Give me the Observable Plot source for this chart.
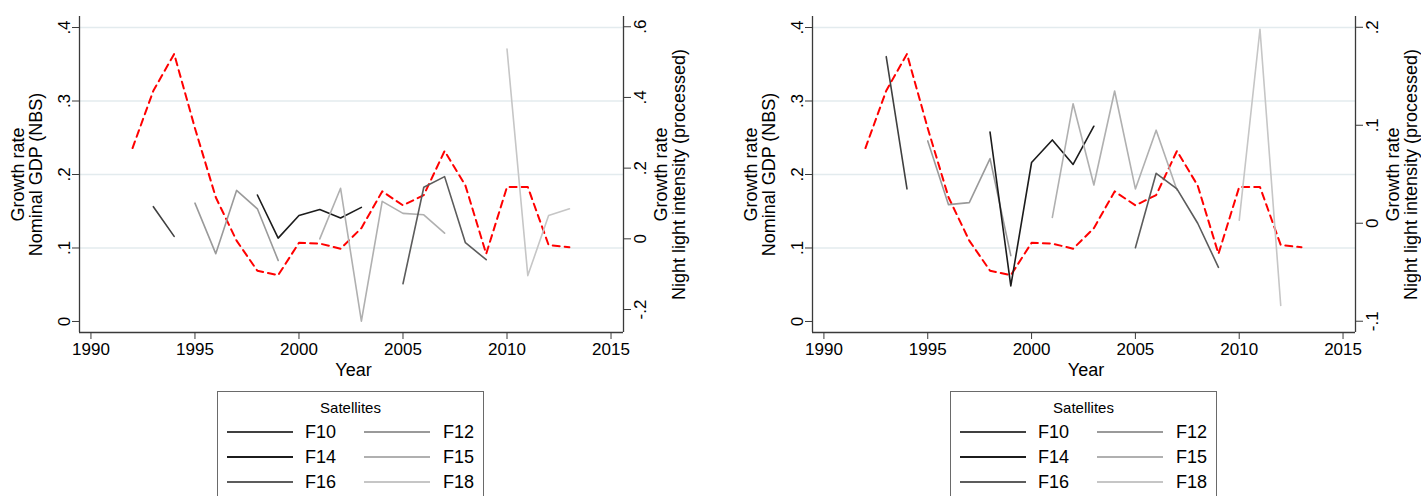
<!DOCTYPE html>
<html><head><meta charset="utf-8">
<script src="https://cdn.jsdelivr.net/npm/d3@7"></script>
<script src="https://cdn.jsdelivr.net/npm/@observablehq/plot@0.6"></script>
<style>
body{margin:0;background:#fff;font-family:"Liberation Sans",Arial,sans-serif;}
#wrap{position:relative;width:1421px;height:496px;overflow:hidden;background:#fff;}
.layer{position:absolute;top:0;}
.legend{position:absolute;border:1px solid #6a6a6a;background:#fff;box-sizing:border-box;width:267px;height:130px;top:391px;}
.legend .t{position:absolute;left:0;width:100%;text-align:center;font-size:15px;top:7px;}
.legend .sw{position:absolute;height:2px;}
.legend .lb{position:absolute;font-size:18px;line-height:18px;}
</style></head><body><div id="wrap"></div>
<script>
// ---------- data ----------
const satellites = ["F10", "F12", "F14", "F15", "F16", "F18"];
const satColors  = ["#404040", "#9a9a9a", "#1c1c1c", "#b0b0b0", "#5c5c5c", "#c6c6c6"];

const gdpYears  = [1992,1993,1994,1995,1996,1997,1998,1999,2000,2001,2002,2003,2004,2005,2006,2007,2008,2009,2010,2011,2012,2013];
const gdpGrowth = [0.236,0.314,0.364,0.263,0.169,0.110,0.069,0.063,0.107,0.106,0.099,0.127,0.177,0.158,0.172,0.232,0.185,0.092,0.183,0.183,0.104,0.101];

const f10Years = [1993,1994];
const f12Years = [1995,1996,1997,1998,1999];
const f14Years = [1998,1999,2000,2001,2002,2003];
const f15Years = [2001,2002,2003,2004,2005,2006,2007];
const f16Years = [2005,2006,2007,2008,2009];
const f18YearsLeft  = [2010,2011,2012,2013];
const f18YearsRight = [2010,2011,2012];

// left panel: night light growth (right axis)
const leftF10 = [0.091, 0.007];
const leftF12 = [0.101, -0.042, 0.137, 0.085, -0.061];
const leftF14 = [0.124, 0.002, 0.066, 0.083, 0.059, 0.089];
const leftF15 = [0.000, 0.143, -0.233, 0.106, 0.072, 0.068, 0.016];
const leftF16 = [-0.127, 0.146, 0.176, -0.011, -0.059];
const leftF18 = [0.537, -0.104, 0.066, 0.085];

// right panel: night light growth (right axis)
const rightF10 = [0.170, 0.035];
const rightF12 = [0.084, 0.019, 0.021, 0.066, -0.033];
const rightF14 = [0.093, -0.064, 0.062, 0.085, 0.060, 0.099];
const rightF15 = [0.006, 0.122, 0.039, 0.135, 0.035, 0.095, 0.034];
const rightF16 = [-0.025, 0.051, 0.035, 0.000, -0.045];
const rightF18 = [0.003, 0.198, -0.084];

const xTicks = [1990, 1995, 2000, 2005, 2010, 2015];
const gdpTicks = [0, 0.1, 0.2, 0.3, 0.4];
const leftNightTicks = [-0.2, 0, 0.2, 0.4, 0.6];
const rightNightTicks = [-0.1, 0, 0.1, 0.2];

// ---------- build ----------
const rows = (ys, vs, sat) => ys.map((y, i) => ({year: y, value: vs[i], sat}));
const gdpRows = rows(gdpYears, gdpGrowth, "GDP");
const leftSat = [
  ...rows(f10Years, leftF10, "F10"), ...rows(f12Years, leftF12, "F12"), ...rows(f14Years, leftF14, "F14"),
  ...rows(f15Years, leftF15, "F15"), ...rows(f16Years, leftF16, "F16"), ...rows(f18YearsLeft, leftF18, "F18")
];
const rightSat = [
  ...rows(f10Years, rightF10, "F10"), ...rows(f12Years, rightF12, "F12"), ...rows(f14Years, rightF14, "F14"),
  ...rows(f15Years, rightF15, "F15"), ...rows(f16Years, rightF16, "F16"), ...rows(f18YearsRight, rightF18, "F18")
];

const fmt = d => d === 0 ? "0" : String(+d.toFixed(2)).replace(/^(-?)0\./, "$1.");
const H = 385, MT = 16, MB = 53;
const X_DOMAIN = [1989.45, 2015.6];
const Y_DOMAIN = [-0.015, 0.415];
const AX = "#3a3a3a";
const FONT = "'Liberation Sans', Arial, sans-serif";
const wrap = document.getElementById("wrap");

function makePanel({left, width, mL, mR, rDomain, rTicks, data, legendLeft}) {
  const style = {background: "transparent", fontFamily: FONT, overflow: "visible", color: "#000"};
  const common = {width, height: H, marginLeft: mL, marginRight: mR, marginTop: MT, marginBottom: MB, style};
  const base = Plot.plot({
    ...common,
    x: {domain: X_DOMAIN},
    y: {domain: Y_DOMAIN},
    marks: [
      Plot.gridY(gdpTicks.slice(1), {stroke: "#e3ebee", strokeOpacity: 1, strokeWidth: 1.5}),
      Plot.ruleX([X_DOMAIN[0]], {stroke: AX, strokeWidth: 1.3}),
      Plot.ruleY([Y_DOMAIN[0]], {stroke: AX, strokeWidth: 1.3}),
      Plot.axisX({ticks: xTicks, tickSize: 7, tickFormat: d => String(d), fontSize: 17, label: null, stroke: AX, fill: "#000"}),
      Plot.axisY({ticks: gdpTicks, tickSize: 7, tickRotate: -90, tickFormat: fmt, fontSize: 17, label: null, stroke: AX, fill: "#000"}),
      Plot.text(["Growth rate"], {text: d => d, frameAnchor: "left", rotate: -90, dx: -61, textAnchor: "middle", lineAnchor: "middle", fontSize: 18, fill: "#000"}),
      Plot.text(["Nominal GDP (NBS)"], {text: d => d, frameAnchor: "left", rotate: -90, dx: -43, textAnchor: "middle", lineAnchor: "middle", fontSize: 18, fill: "#000"}),
      Plot.text(["Year"], {text: d => d, frameAnchor: "bottom", dy: 38, dx: 2, textAnchor: "middle", lineAnchor: "middle", fontSize: 18, fill: "#000"}),
      Plot.line(gdpRows, {x: "year", y: "value", stroke: "#ff0000", strokeWidth: 2, strokeDasharray: "7,5"})
    ]
  });
  const over = Plot.plot({
    ...common,
    x: {domain: X_DOMAIN, axis: null},
    y: {domain: rDomain, axis: null},
    color: {domain: satellites, range: satColors},
    marks: [
      Plot.ruleX([X_DOMAIN[1]], {stroke: AX, strokeWidth: 1.3}),
      Plot.axisY({anchor: "right", ticks: rTicks, tickSize: 7, tickRotate: -90, lineAnchor: "top", textAnchor: "middle", tickFormat: fmt, fontSize: 17, label: null, stroke: AX, fill: "#000"}),
      Plot.text(["Growth rate"], {text: d => d, frameAnchor: "right", rotate: -90, dx: 38, textAnchor: "middle", lineAnchor: "middle", fontSize: 18, fill: "#000"}),
      Plot.text(["Night light intensity (processed)"], {text: d => d, frameAnchor: "right", rotate: -90, dx: 56, textAnchor: "middle", lineAnchor: "middle", fontSize: 18, fill: "#000"}),
      Plot.line(data, {x: "year", y: "value", z: "sat", stroke: "sat", strokeWidth: 1.6})
    ]
  });
  for (const el of [base, over]) {
    el.classList.add("layer");
    el.style.left = left + "px";
    wrap.appendChild(el);
  }
  // legend
  const lg = document.createElement("div");
  lg.className = "legend";
  lg.style.left = legendLeft + "px";
  const t = document.createElement("div");
  t.className = "t"; t.textContent = "Satellites";
  lg.appendChild(t);
  satellites.forEach((s, i) => {
    const col = i % 2, row = Math.floor(i / 2);
    const cy = 40 + row * 25;
    const sw = document.createElement("div");
    sw.className = "sw";
    sw.style.left = (col ? 146 : 9) + "px";
    sw.style.width = "66px";
    sw.style.top = (cy - 1) + "px";
    sw.style.background = satColors[i];
    lg.appendChild(sw);
    const lb = document.createElement("div");
    lb.className = "lb";
    lb.style.left = (col ? 225 : 87) + "px";
    lb.style.top = (cy - 9) + "px";
    lb.textContent = s;
    lg.appendChild(lb);
  });
  wrap.appendChild(lg);
}

makePanel({left: 0, width: 711, mL: 79, mR: 88, rDomain: [-0.265, 0.629], rTicks: leftNightTicks, data: leftSat, legendLeft: 217});
makePanel({left: 711, width: 710, mL: 101, mR: 66, rDomain: [-0.1115, 0.211], rTicks: rightNightTicks, data: rightSat, legendLeft: 950});
</script></body></html>
